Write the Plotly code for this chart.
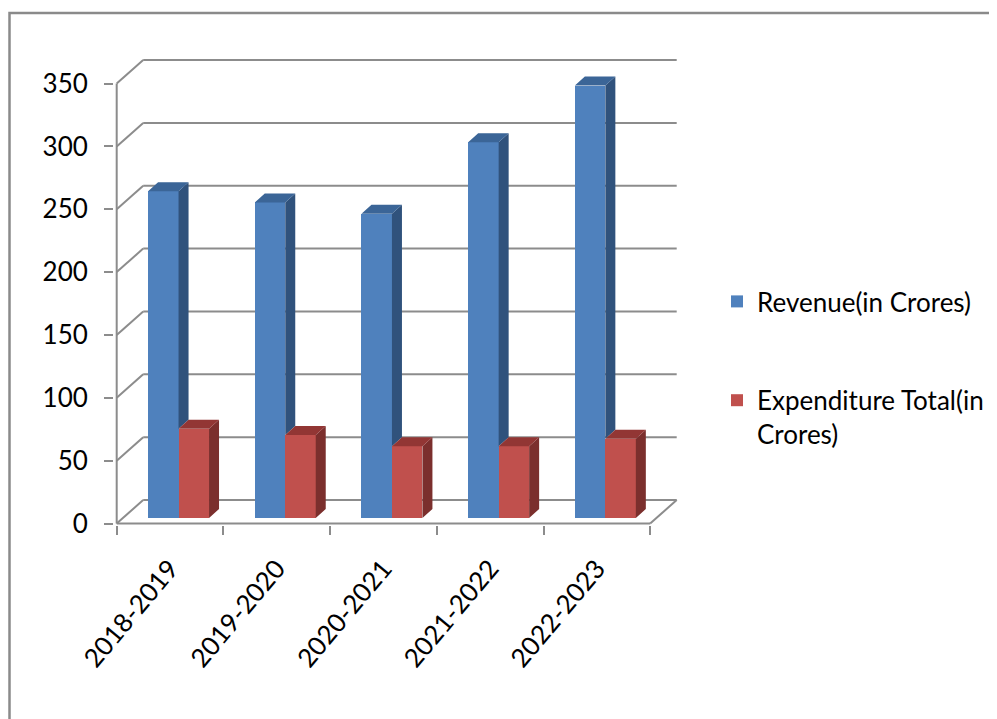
import plotly.graph_objects as go

# ---------------- data ----------------
categories = ["2018-2019", "2019-2020", "2020-2021", "2021-2022", "2022-2023"]
revenue = [260, 251, 242, 299, 344]
expenditure = [71, 66, 57, 57, 63]
y_ticks = [0, 50, 100, 150, 200, 250, 300, 350]
revenue_name = "Revenue(in Crores)"
expenditure_name = "Expenditure Total(in<br>Crores)"

# ---------------- styling / geometry ----------------
FONT = "Lato, Liberation Sans, sans-serif"
GRID = "#8c8c8c"
BLUE_FRONT, BLUE_SIDE, BLUE_TOP = "#4F81BD", "#30527C", "#3B6597"
RED_FRONT, RED_SIDE, RED_TOP = "#C0504D", "#7B2F2D", "#923634"

OFF = 8                        # page body margin
W, H = 997, 719
X0, CW = 116.7 - OFF, 106.7    # px of category 0 edge, px per category
Y0, S = 523.5 - OFF, 1.257     # px of value 0 on front plane, px per value unit
L_PX, R_PX = 114 - OFF, 680 - OFF
T_PX, B_PX = 54 - OFF, 525 - OFF

DEPTH_X = 26.5 / CW        # full depth offset (category units)
DEPTH_Y = 23.5 / S         # full depth offset (value units)
BAR_W = 0.2857
BAR_DX = 8.5 / CW          # front face of bars behind front plane
BAR_DY = 5.5 / S
SIDE_X = 10.0 / CW         # bar depth
SIDE_Y = 9.0 / S

n = len(categories)
x_range = [(L_PX - X0) / CW, (R_PX - X0) / CW]
y_range = [(Y0 - B_PX) / S, (Y0 - T_PX) / S]


def faces(lefts, values, hide_lower=None):
    sx, sy, tx, ty = [], [], [], []
    for i, (x0, v) in enumerate(zip(lefts, values)):
        x1 = x0 + BAR_W
        b = BAR_DY
        t = b + v
        lb = b if hide_lower is None else b + min(hide_lower[i], v)
        sx += [x1, x1 + SIDE_X, x1 + SIDE_X, x1, x1, None]
        sy += [lb, lb + SIDE_Y, t + SIDE_Y, t, lb, None]
        tx += [x0, x1, x1 + SIDE_X, x0 + SIDE_X, x0, None]
        ty += [t, t, t + SIDE_Y, t + SIDE_Y, t, None]
    return sx, sy, tx, ty


blue_left = [i + 0.5 - BAR_W + BAR_DX for i in range(n)]
red_left = [i + 0.5 + BAR_DX for i in range(n)]

fig = go.Figure()

# blue bars
bsx, bsy, btx, bty = faces(blue_left, revenue, hide_lower=expenditure)
fig.add_trace(go.Bar(x=[xl + BAR_W / 2 for xl in blue_left], y=revenue, base=BAR_DY,
                     width=BAR_W, marker=dict(color=BLUE_FRONT, line=dict(width=0)),
                     name=revenue_name, legendgroup="rev", legendrank=1))
fig.add_trace(go.Scatter(x=bsx, y=bsy, fill="toself", fillcolor=BLUE_SIDE, mode="lines",
                         line=dict(width=0, color=BLUE_SIDE), showlegend=False, hoverinfo="skip"))
fig.add_trace(go.Scatter(x=btx, y=bty, fill="toself", fillcolor=BLUE_TOP, mode="lines",
                         line=dict(width=0, color=BLUE_TOP), showlegend=False, hoverinfo="skip"))

# red bars
rsx, rsy, rtx, rty = faces(red_left, expenditure)
fig.add_trace(go.Bar(x=[xl + BAR_W / 2 for xl in red_left], y=expenditure, base=BAR_DY,
                     width=BAR_W, marker=dict(color=RED_FRONT, line=dict(width=0)),
                     name=expenditure_name, legendgroup="exp", legendrank=2))
fig.add_trace(go.Scatter(x=rsx, y=rsy, fill="toself", fillcolor=RED_SIDE, mode="lines",
                         line=dict(width=0, color=RED_SIDE), showlegend=False, hoverinfo="skip"))
fig.add_trace(go.Scatter(x=rtx, y=rty, fill="toself", fillcolor=RED_TOP, mode="lines",
                         line=dict(width=0, color=RED_TOP), showlegend=False, hoverinfo="skip"))

# walls / floor / gridlines (drawn below the bars)
shapes = []
gl = dict(color=GRID, width=2)
for v in y_ticks:
    shapes.append(dict(type="line", xref="x", yref="y", x0=DEPTH_X, x1=n + DEPTH_X,
                       y0=v + DEPTH_Y, y1=v + DEPTH_Y, line=gl, layer="below"))
    shapes.append(dict(type="line", xref="x", yref="y", x0=0, x1=DEPTH_X,
                       y0=v, y1=v + DEPTH_Y, line=gl, layer="below"))
shapes.append(dict(type="line", xref="x", yref="y", x0=0, x1=0, y0=0, y1=y_ticks[-1],
                   line=gl, layer="below"))
shapes.append(dict(type="line", xref="x", yref="y", x0=0, x1=n, y0=0, y1=0,
                   line=gl, layer="below"))
shapes.append(dict(type="line", xref="x", yref="y", x0=n, x1=n + DEPTH_X, y0=0, y1=DEPTH_Y,
                   line=gl, layer="below"))

# outer chart border
pw = R_PX - L_PX
ph = B_PX - T_PX
shapes.append(dict(type="rect", xref="paper", yref="paper",
                   x0=(9.5 - OFF - L_PX) / pw, x1=(1030 - L_PX) / pw,
                   y0=(B_PX - 760) / ph, y1=(B_PX - (13 - OFF)) / ph,
                   line=dict(color="#8a8a8a", width=2.5), fillcolor="rgba(0,0,0,0)", layer="below"))

fig.update_layout(
    width=W, height=H,
    margin=dict(l=L_PX, r=W - R_PX, t=T_PX, b=H - B_PX, pad=0, autoexpand=False),
    paper_bgcolor="white", plot_bgcolor="white",
    barmode="overlay", bargap=0,
    font=dict(family=FONT, size=26, color="#000000"),
    shapes=shapes,
    showlegend=True,
    legend=dict(x=(717 - OFF - L_PX) / pw, xanchor="left", y=(B_PX - (278 - OFF)) / ph,
                yanchor="top", traceorder="grouped", tracegroupgap=62, valign="top",
                font=dict(family=FONT, size=26, color="#000000"), bgcolor="rgba(0,0,0,0)"),
    xaxis=dict(range=x_range, showgrid=False, zeroline=False, showline=False,
               tickmode="array", tickvals=[i + 0.5 for i in range(n)], ticktext=categories,
               ticks="", tickangle=-50, ticklabelstandoff=22,
               tickfont=dict(family=FONT, size=26, color="#000000"),
               minor=dict(tickmode="array", tickvals=list(range(n + 1)), ticks="outside",
                          ticklen=9, tickwidth=2, tickcolor=GRID),
               fixedrange=True),
    yaxis=dict(range=y_range, showgrid=False, zeroline=False, showline=False,
               tickmode="array", tickvals=y_ticks, ticktext=[str(v) for v in y_ticks],
               ticks="outside", ticklen=9, tickwidth=2, tickcolor=GRID,
               tickfont=dict(family=FONT, size=26, color="#000000"),
               ticklabelstandoff=11, fixedrange=True),
)

fig.write_html("out.html")
